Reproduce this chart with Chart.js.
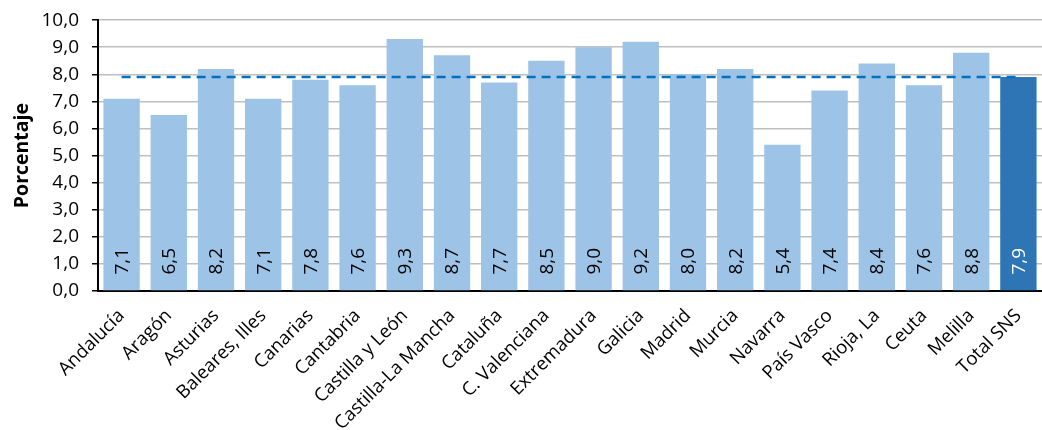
<!DOCTYPE html>
<html><head><meta charset="utf-8">
<script src="https://cdn.jsdelivr.net/npm/chart.js@4"></script>
<style>html,body{margin:0;padding:0;background:#fff}#wrap{width:1042px;height:430px}</style>
</head><body><div id="wrap"><canvas id="c" width="1042" height="430"></canvas></div>
<script>
const categories = ["Andalucía","Aragón","Asturias","Baleares, Illes","Canarias","Cantabria","Castilla y León","Castilla-La Mancha","Cataluña","C. Valenciana","Extremadura","Galicia","Madrid","Murcia","Navarra","País Vasco","Rioja, La","Ceuta","Melilla","Total SNS"];
const values = [7.1,6.5,8.2,7.1,7.8,7.6,9.3,8.7,7.7,8.5,9.0,9.2,8.0,8.2,5.4,7.4,8.4,7.6,8.8,7.9];
const totalValue = 7.9;
const totalLine = categories.map(() => totalValue);
const yTicks = [0,1,2,3,4,5,6,7,8,9,10];

const FONT = "'Open Sans', sans-serif";
const fmt = v => v.toFixed(1).replace('.', ',');

const valueLabels = {
  id: 'valueLabels',
  afterDatasetsDraw(chart) {
    const ctx = chart.ctx;
    const meta = chart.getDatasetMeta(0);
    const yScale = chart.scales.y;
    ctx.save();
    ctx.font = "19px " + FONT;
    ctx.textAlign = 'center';
    ctx.textBaseline = 'middle';
    meta.data.forEach((bar, i) => {
      ctx.save();
      ctx.translate(bar.x + 1, yScale.getPixelForValue(1.1));
      ctx.rotate(-Math.PI / 2);
      ctx.fillStyle = i === values.length - 1 ? '#ffffff' : '#000000';
      ctx.fillText(fmt(values[i]), 0, 0);
      ctx.restore();
    });
    ctx.restore();
  }
};

new Chart(document.getElementById('c'), {
  data: {
    labels: categories,
    datasets: [
      {
        type: 'line',
        data: totalLine,
        borderColor: '#0070C0',
        borderWidth: 2.5,
        borderDash: [9, 6],
        pointRadius: 0,
        fill: false,
        order: 0
      },
      {
        type: 'bar',
        data: values,
        backgroundColor: values.map((v, i) => i === values.length - 1 ? '#2E75B6' : '#9DC3E6'),
        barPercentage: 0.77,
        categoryPercentage: 1.0,
        order: 1
      }
    ]
  },
  options: {
    responsive: false,
    animation: false,
    layout: { padding: { top: 0, right: 0, left: 0, bottom: 0 } },
    plugins: { legend: { display: false }, tooltip: { enabled: false } },
    scales: {
      x: {
        grid: { display: false },
        border: { display: true, color: '#000000', width: 2 },
        ticks: {
          color: '#000000',
          font: { family: FONT, size: 18.5 },
          maxRotation: 45, minRotation: 45,
          autoSkip: false,
          padding: 6
        },
        afterFit(scale) { scale.height = 139; }
      },
      y: {
        min: 0, max: 10,
        afterBuildTicks(scale) { scale.ticks = yTicks.map(v => ({ value: v })); },
        grid: {
          color: '#BFBFBF',
          lineWidth: 1.5,
          borderDash: [2, 3],
          drawTicks: true,
          tickLength: 6,
          tickColor: '#000000',
          tickWidth: 1.5,
          tickBorderDash: []
        },
        border: { display: true, color: '#000000', width: 2 },
        ticks: {
          color: '#000000',
          font: { family: FONT, size: 19, lineHeight: 0.75 },
          padding: 13,
          callback: v => fmt(v)
        },
        title: {
          display: true,
          text: 'Porcentaje',
          color: '#000000',
          font: { family: FONT, size: 19.5, weight: 'bold' },
          padding: { top: 11, bottom: 6 }
        },
        afterFit(scale) { scale.width = 98; }
      }
    }
  },
  plugins: [valueLabels]
});
</script>
</body></html>
